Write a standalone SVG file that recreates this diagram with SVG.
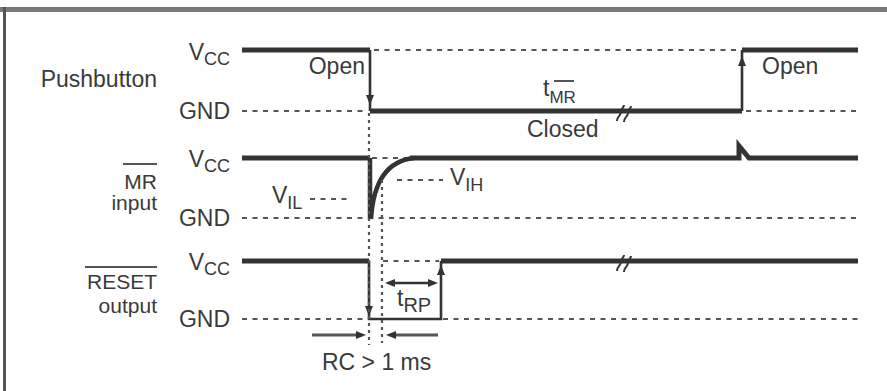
<svg xmlns="http://www.w3.org/2000/svg" width="887" height="391" viewBox="0 0 887 391">
<defs>
<style>
text{font-family:"Liberation Sans",Arial,sans-serif;font-size:23px;fill:#3a3a3a}
.lbl{text-anchor:end}
.sm{font-size:21px}
.sub{font-size:18px}
.thick{stroke:#333;stroke-width:5;fill:none}
.thin{stroke:#333;stroke-width:2.6;fill:none}
.dash{stroke:#555;stroke-width:2.2;fill:none;stroke-dasharray:5 5.5}
.dot{stroke:#555;stroke-width:2.2;fill:none;stroke-dasharray:3 4}
.brk{stroke:#333;stroke-width:2;fill:none}
.ah{fill:#333}
.gray{stroke:#555;stroke-width:3;fill:none}
</style>
</defs>
<rect width="887" height="391" fill="#fff"/>
<g id="frame">
<path d="M0,9.5 H887" stroke="#7a7a7a" stroke-width="5"/>
<path d="M4.5,7 V391" stroke="#555" stroke-width="3"/>
</g>
<g id="labels">
<text class="lbl" x="157" y="87">Pushbutton</text>
<line x1="123" y1="164" x2="157" y2="164" stroke="#555" stroke-width="2.2"/>
<text class="lbl sm" x="157" y="189">MR</text>
<text class="lbl sm" x="157" y="210">input</text>
<line x1="85" y1="267" x2="157" y2="267" stroke="#555" stroke-width="2.2"/>
<text class="lbl sm" x="157" y="289">RESET</text>
<text class="lbl sm" x="157" y="313">output</text>
<text class="lbl" x="230" y="60">V<tspan class="sub" dy="5">CC</tspan></text>
<text class="lbl" x="230" y="119">GND</text>
<text class="lbl" x="230" y="167">V<tspan class="sub" dy="5">CC</tspan></text>
<text class="lbl" x="230" y="226">GND</text>
<text class="lbl" x="230" y="270">V<tspan class="sub" dy="5">CC</tspan></text>
<text class="lbl" x="230" y="327">GND</text>
</g>
<g id="pushbutton">
<path class="dash" d="M242,111 H368 M374,50 H740 M746,111 H858"/>
<path class="thick" d="M242,50 H370 M370,111 H742 M742,50 H858"/>
<path class="thin" d="M370,50 V111 M742,111 V50"/>
<polygon class="ah" points="366,95 374,95 370,105"/>
<polygon class="ah" points="738,66 746,66 742,56"/>
<path class="brk" d="M617,121 c0,-5 4,-5 4,-9 s3,-4 3,-7 M624,122 c0,-5 4,-5 4,-9 s3,-4 3,-7"/>
<text x="365" y="74" text-anchor="end">Open</text>
<text x="762" y="74">Open</text>
<text x="543" y="96" font-size="19">t<tspan font-size="17" dy="7">MR</tspan></text>
<line x1="554" y1="81" x2="574" y2="81" stroke="#555" stroke-width="2"/>
<text x="527" y="137">Closed</text>
</g>
<g id="mr-input">
<path class="dash" d="M372,158 H410 M242,218 H858"/>
<path class="dash" d="M310,199 H352 M397,180 H443"/>
<path class="thick" d="M242,158 H370 M410,158 H739 V146 L749,158 H858"/>
<path stroke="#333" stroke-width="4.5" fill="none" d="M370,158 V219 M371,219 C373,186 385,161 414,158"/>
<text x="272" y="203">V<tspan class="sub" dy="6">IL</tspan></text>
<text x="450" y="185">V<tspan class="sub" dy="6">IH</tspan></text>
</g>
<g id="reset-output">
<path class="dash" d="M242,319 H367 M443,319 H858 M383,261 H439"/>
<path class="thick" d="M242,261 H369 M441,261 H858"/>
<path class="thin" d="M369,261 V319 H441 V261"/>
<polygon class="ah" points="365,306 373,306 369,316"/>
<polygon class="ah" points="437,275 445,275 441,265"/>
<path class="brk" d="M617,271 c0,-5 4,-5 4,-9 s3,-4 3,-7 M624,272 c0,-5 4,-5 4,-9 s3,-4 3,-7"/>
<path class="thin" d="M394,283 H429"/>
<polygon class="ah" points="385,283 395,279 395,287"/>
<polygon class="ah" points="438,283 428,279 428,287"/>
<text x="397" y="306" font-size="20">t<tspan font-size="20" dy="6">RP</tspan></text>
</g>
<g id="connectors">
<path class="dot" d="M369,113 V345 M382,180 V343"/>
<path class="gray" d="M312,335 H358 M438,335 H394"/>
<polygon class="ah" points="366,335 356,331 356,339"/>
<polygon class="ah" points="386,335 396,331 396,339"/>
<text x="322" y="370">RC &gt; 1 ms</text>
</g>
</svg>
